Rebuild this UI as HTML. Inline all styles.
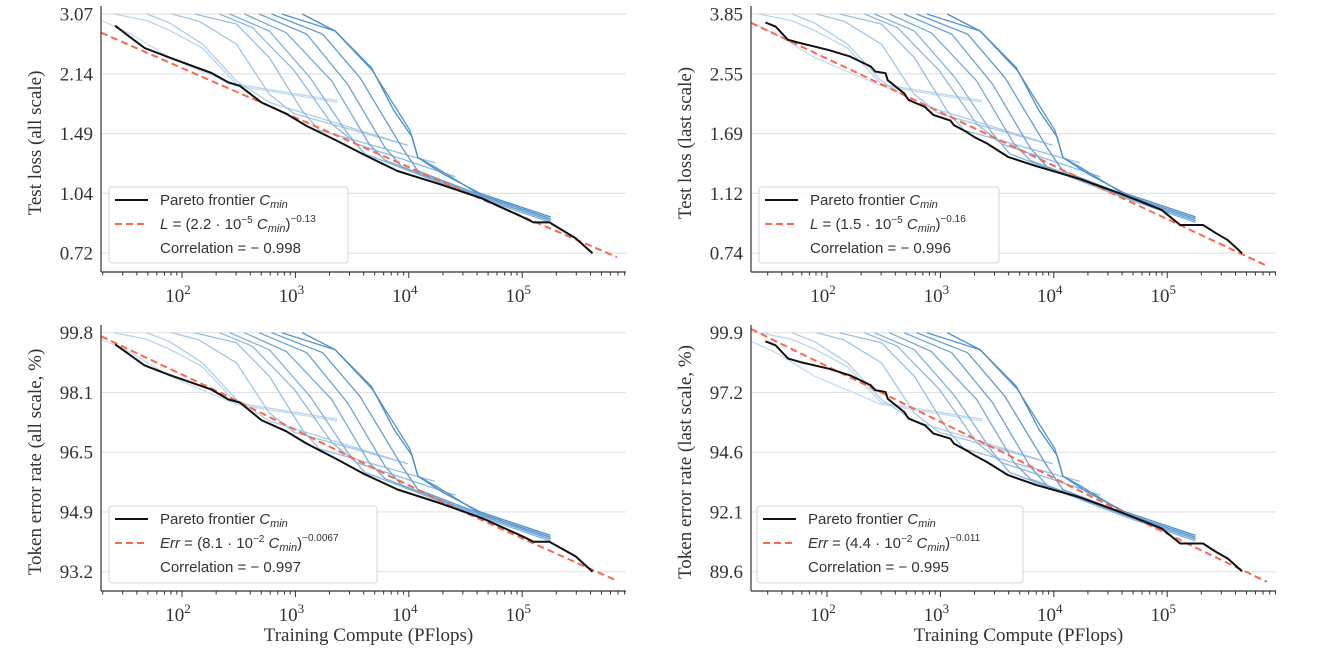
<!DOCTYPE html>
<html><head><meta charset="utf-8"><style>
html,body{margin:0;padding:0;background:#fff}
svg{display:block}
text{font-family:"Liberation Serif",serif;fill:#333}
.lg{font-family:"Liberation Sans","DejaVu Sans",sans-serif;font-size:15px;fill:#333}
</style></head><body>
<svg id="fig" width="1320" height="668" viewBox="0 0 1320 668"></svg>
<script>
// ---- data (x = log10 training compute in PFlops) ----
const yTicksTL = [3.07, 2.14, 1.49, 1.04, 0.72];
const yTicksTR = [3.85, 2.55, 1.69, 1.12, 0.74];
const yTicksBL = [99.8, 98.1, 96.5, 94.9, 93.2];
const yTicksBR = [99.9, 97.2, 94.6, 92.1, 89.6];
const xTickExps = [2, 3, 4, 5];

const frontierTL_x = [1.41,1.67,1.89,2.26,2.41,2.51,2.70,2.92,3.10,3.36,3.61,3.90,4.27,4.64,5.00,5.10,5.24,5.47,5.62];
const frontierTL_y = [2.86,2.50,2.36,2.15,2.03,1.99,1.80,1.68,1.56,1.43,1.31,1.19,1.10,1.01,0.90,0.87,0.87,0.79,0.72];
const frontierBL_y = [99.47,98.87,98.60,98.18,97.91,97.83,97.36,97.06,96.73,96.32,95.91,95.50,95.14,94.73,94.21,94.05,94.05,93.64,93.20];
const frontierTR_x = [1.457,1.547,1.657,1.766,2.02,2.205,2.388,2.425,2.517,2.535,2.68,2.72,2.864,2.94,3.087,3.12,3.23,3.30,3.41,3.596,3.85,4.218,4.584,4.95,5.115,5.316,5.43,5.535,5.66];
const frontierTR_y = [3.63,3.53,3.22,3.15,3.00,2.87,2.68,2.59,2.56,2.44,2.23,2.13,2.03,1.92,1.85,1.79,1.71,1.65,1.58,1.44,1.35,1.24,1.12,1.00,0.90,0.90,0.85,0.81,0.74];
const frontierBR_y = [99.51,99.33,98.73,98.57,98.27,97.97,97.52,97.30,97.22,96.93,96.35,96.06,95.77,95.41,95.19,94.97,94.68,94.47,94.19,93.64,93.22,92.73,92.10,91.41,90.78,90.78,90.43,90.15,89.62];

// fit parameters: y = (a * C)^b
const fitA = [2.2e-5, 1.5e-5, 8.1e-2, 4.4e-2];
const fitB = [-0.13, -0.16, -0.0067, -0.011];
const fitScale = [1, 1, 100, 100];
const corr = ["0.998", "0.996", "0.997", "0.995"];

// individual training runs (log10 compute, test loss all scale)
const runs = [
 [[1.28,2.96],[1.55,2.72],[1.89,2.36],[2.48,1.99],[3.37,1.80]],
 [[1.40,3.07],[1.69,2.95],[1.89,2.78],[2.18,2.50],[2.48,2.01],[3.37,1.82]],
 [[1.69,3.07],[1.89,2.91],[2.18,2.56],[2.48,2.05],[2.77,1.80],[3.99,1.39]],
 [[1.91,3.07],[2.15,2.94],[2.48,2.56],[2.77,1.89],[2.99,1.68],[3.99,1.39]],
 [[2.11,3.07],[2.48,2.89],[2.77,2.36],[3.06,1.71],[3.21,1.52],[4.23,1.25]],
 [[2.33,3.07],[2.62,2.83],[2.99,2.18],[3.32,1.58],[3.54,1.40],[4.41,1.15]],
 [[2.42,3.07],[2.77,2.77],[3.13,2.09],[3.46,1.49],[3.61,1.32],[4.63,1.01],[5.25,0.87]],
 [[2.55,3.07],[2.92,2.74],[3.32,2.05],[3.65,1.40],[3.79,1.27],[4.63,1.02],[5.25,0.88]],
 [[2.68,3.07],[3.10,2.72],[3.46,2.01],[3.79,1.37],[3.94,1.22],[4.63,1.02],[5.25,0.88]],
 [[2.79,3.07],[3.24,2.72],[3.57,2.09],[3.94,1.37],[4.08,1.19],[4.63,1.03],[5.25,0.89]],
 [[2.88,3.07],[3.35,2.77],[3.68,2.18],[4.01,1.52],[4.08,1.29],[4.23,1.22],[4.63,1.03],[5.25,0.89]],
 [[3.06,3.07],[3.35,2.77],[3.67,2.22],[3.87,1.71],[4.03,1.46],[4.08,1.29],[4.30,1.17],[4.63,1.04],[5.25,0.90]]
];

const NS = "http://www.w3.org/2000/svg";
const svg = document.getElementById("fig");
function mk(tag, attrs, parent) {
  const e = document.createElementNS(NS, tag);
  for (const k in attrs) e.setAttribute(k, attrs[k]);
  (parent || svg).appendChild(e);
  return e;
}

const panels = [
  {left:101,right:626,top:6,bottom:272,x100:182,yTop:14,step:59.8,ticks:yTicksTL,log:true,title:"Test loss (all scale)",
   fx:frontierTL_x,fy:frontierTL_y,leg:[109,187,239,76],fitLab:"L",exp:"−5",coef:"2.2",pw:"−0.13"},
  {left:751,right:1276,top:6,bottom:272,x100:827,yTop:14,step:59.8,ticks:yTicksTR,log:true,title:"Test loss (last scale)",
   fx:frontierTR_x,fy:frontierTR_y,leg:[759,187,240,76],fitLab:"L",exp:"−5",coef:"1.5",pw:"−0.16"},
  {left:101,right:626,top:325,bottom:591,x100:182,yTop:332.7,step:59.75,ticks:yTicksBL,log:false,title:"Token error rate (all scale, %)",
   fx:frontierTL_x,fy:frontierBL_y,leg:[109,506,268,77],fitLab:"Err",exp:"−2",coef:"8.1",pw:"−0.0067"},
  {left:751,right:1276,top:325,bottom:591,x100:827,yTop:332.7,step:59.75,ticks:yTicksBR,log:false,title:"Token error rate (last scale, %)",
   fx:frontierTR_x,fy:frontierBR_y,leg:[757,506,266,77],fitLab:"Err",exp:"−2",coef:"4.4",pw:"−0.011"}
];
const DEC = 113.4;

function tr(p, v) { return p.log ? Math.log(v) : v; }
function uOf(p, v) {
  const t = p.ticks; let i = 0;
  if (tr(p, v) <= tr(p, t[t.length-2])) i = t.length - 2;
  else { while (i < t.length - 2 && tr(p, v) < tr(p, t[i+1])) i++; }
  return i + (tr(p, v) - tr(p, t[i])) / (tr(p, t[i+1]) - tr(p, t[i]));
}
function X(p, lx) { return p.x100 + (lx - 2) * DEC; }
function Y(p, v) { return p.yTop + uOf(p, v) * p.step; }
function lxAt(p, px) { return 2 + (px - p.x100) / DEC; }

panels.forEach((p, pi) => {
  const g = mk("g", {});
  
  
  const clipId = "clip" + pi;
  const cp = mk("clipPath", {id: clipId}, g);
  mk("rect", {x: p.left, y: p.top, width: p.right - p.left, height: p.bottom - p.top}, cp);

  p.ticks.forEach((t) => {
    const y = Y(p, t);
    const gl = mk("line", {x1: p.left, x2: p.right, y1: y, y2: y, stroke: "#e2e2e2", "stroke-width": 1.2}, g);
    
    
    const tl = mk("text", {x: p.left - 8, y: y + 6.5, "text-anchor": "end", "font-size": 19}, g);
    tl.textContent = p.log ? t.toFixed(2) : t.toFixed(1);
    
    
  });

  const yt = mk("text", {x: 0, y: 0, "text-anchor": "middle", "font-size": 19,
    transform: `translate(${p.left - 60},${(p.top + p.bottom) / 2 + 4}) rotate(-90)`}, g);
  yt.textContent = p.title;
  
  

  const plot = mk("g", {"clip-path": `url(#${clipId})`}, g);
  runs.forEach((r, ri) => {
    const f = ri / (runs.length - 1);
    const c1 = [198, 221, 240], c2 = [74, 142, 200];
    const col = `rgb(${c1.map((c, k) => Math.round(c + (c2[k] - c) * f)).join(",")})`;
    const pts = r.map(([lx, v]) => {
      const u = uOf(panels[0], v);
      return X(p, lx).toFixed(1) + "," + (p.yTop + u * p.step).toFixed(1);
    }).join(" ");
    const pl = mk("polyline", {points: pts, fill: "none", stroke: col, "stroke-width": 1.3, "stroke-linejoin": "round"}, plot);
    
    
  });

  const fpts = [];
  const lx0 = lxAt(p, p.left), lx1 = lxAt(p, p.left) + 4.55;
  for (let k = 0; k <= 60; k++) {
    const lx = lx0 + (lx1 - lx0) * k / 60;
    const v = fitScale[pi] * Math.pow(fitA[pi] * Math.pow(10, lx), fitB[pi]);
    fpts.push(X(p, lx).toFixed(1) + "," + Y(p, v).toFixed(1));
  }
  const fl = mk("polyline", {points: fpts.join(" "), fill: "none", stroke: "#f8694d", "stroke-width": 2, "stroke-dasharray": "7,4"}, g);
  
  

  const fr = mk("polyline", {points: p.fx.map((lx, i) => X(p, lx).toFixed(1) + "," + Y(p, p.fy[i]).toFixed(1)).join(" "),
    fill: "none", stroke: "#111", "stroke-width": 2, "stroke-linejoin": "round"}, g);
  
  

  mk("line", {x1: p.left, x2: p.left, y1: p.top, y2: p.bottom, stroke: "#333", "stroke-width": 1.2}, g);
  mk("line", {x1: p.left, x2: p.right, y1: p.bottom, y2: p.bottom, stroke: "#333", "stroke-width": 1.2}, g);

  for (let d = 1; d <= 5; d++) {
    for (let m = 1; m <= 9; m++) {
      const lx = d + Math.log10(m);
      const x = X(p, lx);
      if (x < p.left || x > p.right) continue;
      mk("line", {x1: x, x2: x, y1: p.bottom, y2: p.bottom + (m === 1 ? 6 : 3.5), stroke: "#333", "stroke-width": 1}, g);
    }
  }
  xTickExps.forEach(e => {
    const t = mk("text", {x: X(p, e) - 4, y: p.bottom + 30, "text-anchor": "middle", "font-size": 19}, g);
    t.innerHTML = `10<tspan dy="-8" font-size="13">${e}</tspan>`;
    
    
  });
  if (p.top > 300) {
    const xt = mk("text", {x: (p.left + p.right) / 2 + 5, y: 641, "text-anchor": "middle", "font-size": 19}, g);
    xt.textContent = "Training Compute (PFlops)";
    
    
  }

  const [lx, ly, lw, lh] = p.leg;
  const lg = mk("g", {}, g);
  
  
  mk("rect", {x: lx, y: ly, width: lw, height: lh, rx: 3, fill: "rgba(255,255,255,0.85)", stroke: "#d4d4d4"}, lg);
  mk("line", {x1: lx + 6, x2: lx + 39, y1: ly + 13, y2: ly + 13, stroke: "#111", "stroke-width": 2}, lg);
  mk("line", {x1: lx + 6, x2: lx + 39, y1: ly + 37, y2: ly + 37, stroke: "#f8694d", "stroke-width": 2, "stroke-dasharray": "7,4"}, lg);
  const t1 = mk("text", {x: lx + 51, y: ly + 18, class: "lg"}, lg);
  t1.innerHTML = `Pareto frontier <tspan font-style="italic">C</tspan><tspan font-style="italic" font-size="11" dy="3">min</tspan>`;
  
  
  const t2 = mk("text", {x: lx + 51, y: ly + 42, class: "lg", "font-size": 16}, lg);
  t2.innerHTML = `<tspan font-style="italic">${p.fitLab}</tspan> = (${p.coef} · 10<tspan font-size="10" dy="-6">${p.exp}</tspan><tspan dy="6"> </tspan><tspan font-style="italic">C</tspan><tspan font-style="italic" font-size="11" dy="3">min</tspan><tspan dy="-3">)</tspan><tspan font-size="10" dy="-7">${p.pw}</tspan>`;
  
  
  const t3 = mk("text", {x: lx + 51, y: ly + 66, class: "lg"}, lg);
  t3.textContent = "Correlation  = − " + corr[pi];
  
  
});
</script>
</body></html>
